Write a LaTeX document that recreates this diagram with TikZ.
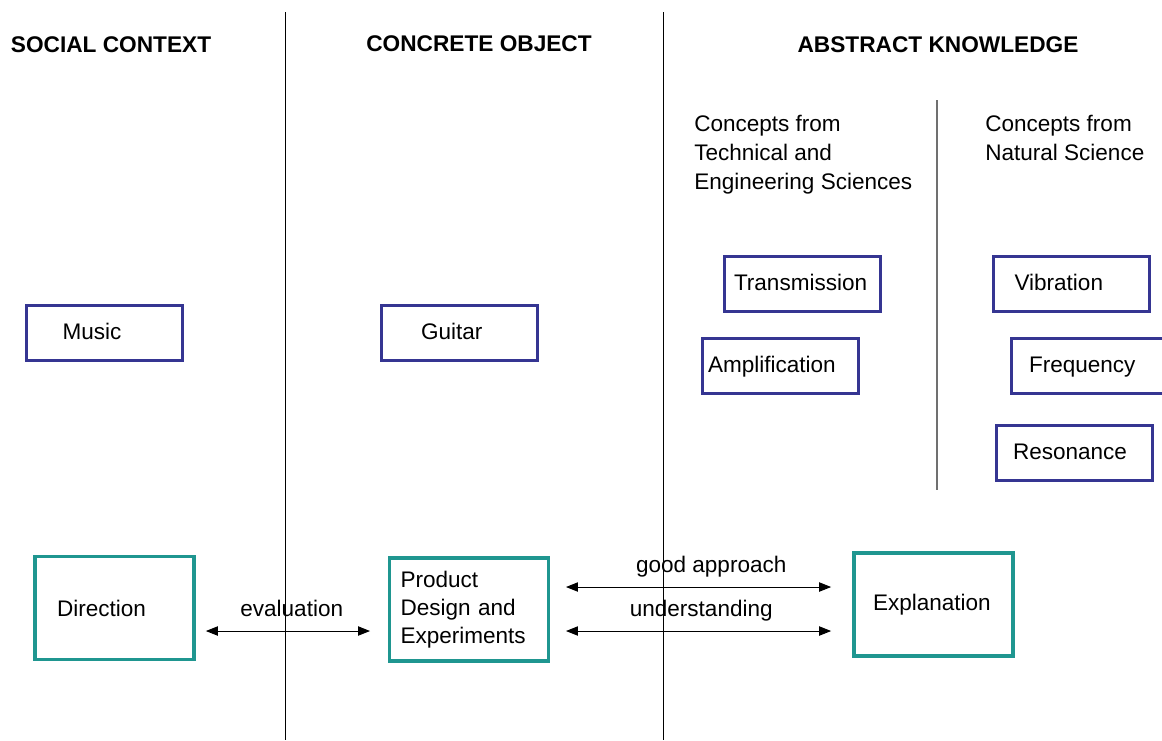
\documentclass[tikz,border=0pt]{standalone}
\usepackage{fontspec}
\setmainfont{Liberation Sans}
\usetikzlibrary{arrows.meta}
\definecolor{conceptblue}{HTML}{353592}
\definecolor{processteal}{HTML}{1F9690}
\definecolor{dividergray}{HTML}{707070}

\begin{document}
\begin{tikzpicture}[
    x=0.75pt, y=-0.75pt,
    >={Triangle[length=9pt, width=7pt]},
    every node/.style={font=\fontsize{16.9}{21.2}\selectfont},
    heading/.style={font=\fontsize{17}{20}\selectfont\bfseries},
    conceptbox/.style={draw=conceptblue, line width=2.25pt, minimum height=41.25pt,
        text height=13pt, text depth=2pt,
        inner xsep=#1, text width=117pt-2*#1, align=left},
    processbox/.style={draw=processteal, line width=2.8pt, minimum height=77.25pt,
        inner xsep=#1, text width=119.25pt-2*#1, align=left},
    biarrow/.style={<->, line width=0.75pt}
]
    \useasboundingbox (0,0) rectangle (1162,740);

    % === COLUMN DIVIDERS ===
    \draw[line width=0.75pt] (285,12) -- (285,740);
    \draw[line width=0.75pt] (663,12) -- (663,740);
    \draw[dividergray, line width=1.2pt] (937,100) -- (937,490);

    % === COLUMN HEADINGS ===
    \node[heading] (social) at (111,45) {SOCIAL CONTEXT};
    \node[heading] (concrete) at (479,44) {CONCRETE OBJECT};
    \node[heading] (abstract) at (938,45) {ABSTRACT KNOWLEDGE};

    % === CONCEPT GROUPS ===
    \node[anchor=north west, inner sep=0pt, align=left, font=\fontsize{16.9}{21.6}\selectfont]
        (technical) at (694,115) {Concepts from\\Technical and\\Engineering Sciences};
    \node[anchor=north west, inner sep=0pt, align=left, font=\fontsize{16.9}{21.6}\selectfont]
        (natural) at (985,115) {Concepts from\\Natural Science};

    % === CONCEPT BOXES ===
    \foreach \name/\x/\y/\pad/\word in {
        music/104.5/332.5/27pt/Music,
        guitar/459/332.5/30pt/Guitar,
        transmission/802/283.5/7.5pt/Transmission,
        amplification/780/365.5/4.5pt/Amplification,
        vibration/1071.5/283.5/15.75pt/Vibration,
        frequency/1089/365.5/13.5pt/Frequency,
        resonance/1074/452.5/12.75pt/Resonance}
        \node[conceptbox=\pad] (\name) at (\x,\y) {\word};

    % === PROCESS BOXES ===
    \node[processbox=16.5pt] (direction) at (114.5,608) {Direction};
    \node[processbox=8.25pt] (product) at (469,609.5) {Product\\Design and\\Experiments};
    \node[processbox=14.25pt] (explanation) at (933.5,604.5) {Explanation};

    % === RELATIONS ===
    \coordinate (upperrow) at (0,587);
    \coordinate (lowerrow) at (0,631);
    \draw[biarrow, shorten <=7.5pt, shorten >=13.2pt] (direction.east |- lowerrow)
        -- node[anchor=base, yshift=11.25pt] (evallabel) {evaluation} (product.west |- lowerrow);
    \draw[biarrow, shorten <=11.7pt, shorten >=15.75pt] (product.east |- upperrow)
        -- node[anchor=base, yshift=11.25pt, xshift=7.5pt] (approachlabel) {good approach} (explanation.west |- upperrow);
    \draw[biarrow, shorten <=11.7pt, shorten >=15.75pt] (product.east |- lowerrow)
        -- node[anchor=base, yshift=11.25pt] (understandlabel) {understanding} (explanation.west |- lowerrow);
\end{tikzpicture}
\end{document}
